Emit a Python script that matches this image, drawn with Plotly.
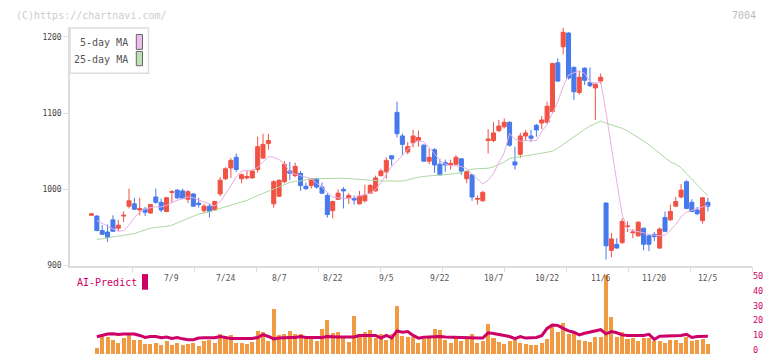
import plotly.graph_objects as go

# ---------------- data ----------------
opens = [966, 965, 946, 944, 960, 949, 965, 978, 981, 973,
         974, 969, 990, 983, 971, 996, 999, 998, 987, 994,
         982, 972, 978, 973, 994, 1014, 1028, 1042, 1014, 1015,
         1015, 1026, 1041, 1060, 981, 991, 1010, 1024, 1018, 1021,
         1004, 1005, 1014, 1003, 992, 972, 987, 1000, 989, 988,
         981, 985, 995, 998, 1018, 1023, 1044, 1101, 1070, 1049,
         1061, 1064, 1058, 1037, 1052, 1033, 1035, 1032, 1033, 1040,
         1014, 1019, 987, 985, 1064, 1064, 1077, 1082, 1088, 1036,
         1046, 1070, 1070, 1084, 1087, 1088, 1102, 1166, 1187, 1205,
         1160, 1127, 1159, 1140, 1133, 1142, 982, 920, 928, 930,
         951, 943, 939, 949, 939, 941, 923, 963, 960, 978,
         990, 1010, 983, 973, 959, 983]
highs = [968, 966, 953, 954, 966, 960, 971, 1001, 989, 989,
         977, 981, 1001, 988, 990, 999, 1000, 1001, 999, 995,
         989, 981, 981, 985, 1016, 1029, 1041, 1047, 1021, 1024,
         1026, 1069, 1073, 1073, 1012, 1013, 1037, 1036, 1035, 1024,
         1009, 1015, 1015, 1009, 995, 985, 1000, 1003, 995, 992,
         998, 1006, 1007, 1018, 1027, 1042, 1045, 1115, 1073, 1062,
         1078, 1077, 1059, 1054, 1054, 1040, 1039, 1039, 1045, 1041,
         1024, 1020, 992, 998, 1079, 1088, 1091, 1093, 1089, 1056,
         1074, 1078, 1078, 1086, 1096, 1115, 1166, 1172, 1212, 1206,
         1161, 1156, 1160, 1160, 1140, 1152, 983, 943, 936, 962,
         958, 948, 958, 950, 941, 944, 950, 971, 980, 990,
         1007, 1012, 987, 977, 990, 989]
lows = [966, 945, 941, 931, 944, 945, 957, 975, 973, 966,
        965, 968, 981, 970, 970, 982, 987, 987, 982, 977,
        976, 969, 963, 972, 991, 1012, 1015, 1023, 1008, 1013,
        1014, 1022, 1040, 1052, 976, 990, 1008, 1012, 1016, 998,
        999, 1001, 1001, 994, 963, 962, 986, 975, 981, 980,
        980, 983, 994, 997, 1017, 1014, 1031, 1068, 1045, 1046,
        1055, 1056, 1036, 1033, 1022, 1018, 1023, 1026, 1032, 1019,
        1008, 985, 980, 984, 1047, 1062, 1075, 1080, 1056, 1026,
        1041, 1064, 1062, 1069, 1079, 1086, 1100, 1141, 1177, 1144,
        1117, 1124, 1137, 1134, 1091, 1138, 908, 911, 922, 929,
        944, 936, 938, 920, 919, 932, 922, 944, 959, 977,
        988, 974, 970, 966, 955, 971]
closes = [968, 946, 941, 937, 945, 953, 966, 985, 974, 975,
          970, 980, 983, 973, 989, 997, 989, 988, 997, 978,
          980, 978, 971, 984, 1012, 1027, 1038, 1026, 1019, 1017,
          1024, 1056, 1059, 1064, 1010, 1012, 1033, 1021, 1030, 1005,
          1001, 1014, 1003, 995, 967, 984, 995, 998, 992, 986,
          991, 992, 1005, 1015, 1024, 1038, 1040, 1073, 1059, 1056,
          1070, 1068, 1037, 1042, 1032, 1019, 1032, 1034, 1042, 1024,
          1023, 990, 988, 996, 1066, 1074, 1083, 1088, 1058, 1032,
          1070, 1074, 1067, 1078, 1091, 1109, 1165, 1142, 1206, 1146,
          1128, 1147, 1143, 1136, 1138, 1147, 926, 935, 923, 958,
          952, 944, 957, 928, 928, 938, 948, 945, 971, 984,
          999, 975, 971, 968, 989, 978]

ma5 = [None, 959, 955, 951, 948, 945, 946, 953, 963, 970,
       974, 976, 977, 977, 979, 983, 986, 988, 990, 989,
       986, 984, 981, 978, 984, 994, 1005, 1016, 1024, 1025,
       1025, 1029, 1036, 1043, 1042, 1039, 1034, 1022, 1020, 1018,
       1015, 1014, 1008, 1003, 996, 990, 989, 988, 988, 989,
       992, 993, 995, 1000, 1009, 1020, 1030, 1037, 1045, 1053,
       1060, 1064, 1062, 1055, 1047, 1038, 1033, 1031, 1031, 1030,
       1027, 1020, 1013, 1007, 1012, 1021, 1035, 1048, 1073, 1066,
       1063, 1064, 1064, 1064, 1076, 1085, 1100, 1115, 1135, 1150,
       1153, 1155, 1152, 1141, 1139, 1141, 1101, 1054, 1010, 967,
       948, 946, 945, 943, 941, 940, 939, 940, 946, 954,
       964, 970, 973, 975, 977, 979]
ma25 = [None, 934.5, 935, 936.5, 937.5, 938.5, 939.5, 940.3, 942, 944.5,
        947, 949, 950, 950.5, 951.5, 953, 955.5, 959, 962, 965,
        967.5, 969, 970.5, 972.5, 975, 977, 979, 981, 983, 985.5,
        989, 992, 995, 998, 1001, 1004, 1007, 1009, 1010.5, 1011,
        1012.5, 1013.5, 1014, 1014, 1014.5, 1014.5, 1014.6, 1014.6, 1014, 1013.5,
        1013, 1012.5, 1011.5, 1011, 1011, 1011, 1011, 1011, 1011, 1012.5,
        1014.5, 1016, 1017, 1017.5, 1018.3, 1018.8, 1019.5, 1020, 1021, 1022,
        1025, 1026.5, 1027, 1027.3, 1027.7, 1029.5, 1032.5, 1036, 1040.5, 1041.5,
        1042.7, 1044, 1045, 1046.3, 1047.5, 1048.5, 1050, 1054, 1059, 1064.5,
        1069.5, 1074, 1078.5, 1083, 1086.5, 1089.5, 1087, 1085, 1082.5, 1080,
        1076.5, 1072.5, 1068, 1063.5, 1058.5, 1053, 1047, 1041.5, 1036, 1033,
        1028.5, 1020.5, 1013, 1006, 999, 991.5]

volume = [None, 6, 21, 17, 14, 11, 16, 22, 14, 14,
          10, 10, 11, 9, 13, 9, 11, 9, 10, 11,
          8, 13, 14, 11, 20, 17, 19, 11, 11, 10,
          12, 24, 23, 13, 46, 19, 21, 24, 21, 21,
          17, 17, 13, 26, 35, 22, 23, 17, 12, 39,
          21, 23, 25, 16, 21, 14, 20, 49, 18, 17,
          17, 11, 15, 16, 26, 25, 14, 11, 16, 13,
          15, 20, 11, 13, 31, 16, 12, 10, 13, 14,
          11, 10, 9, 9, 11, 15, 31, 23, 32, 20,
          22, 14, 13, 12, 17, 17, 81, 38, 17, 23,
          15, 16, 13, 16, 16, 13, 13, 11, 14, 14,
          11, 17, 13, 14, 15, 10]

ai_predict = [None, 8.8, 9.7, 10.7, 10.8, 10.3, 10.7, 10.8, 10.7, 9.7,
              8.3, 9, 9, 8.1, 8.7, 7.7, 8.3, 7.4, 6.8, 6.8,
              8, 8.1, 8.1, 8.1, 9, 8.3, 7.7, 7.7, 7.7, 7.7,
              7.7, 8.3, 10.3, 9, 7.4, 8, 8.3, 8.3, 8.3, 9,
              8.3, 8.3, 8.3, 8.3, 9, 8.7, 8.7, 8.7, 8.7, 8.7,
              9.7, 9.7, 9.7, 9.7, 7.9, 9.7, 8.1, 12.8, 11.9, 12.3,
              9.7, 7.9, 8.5, 8.7, 9, 9, 8.7, 8.5, 8.3, 8.1,
              7.9, 7.9, 7.9, 7.9, 11.5, 11, 10.1, 9.7, 9, 7.5,
              9, 7.9, 8.1, 8.3, 9.5, 14.5, 16.8, 16.5, 14.5, 12.8,
              11.9, 10.1, 11.2, 12, 13, 13.6, 10.8, 12.3, 11.5, 10.1,
              9.7, 9.7, 9.7, 9.7, 10.5, 7, 9.2, 9.2, 9.2, 9.5,
              9.7, 10.5, 8.3, 9, 9.2, 9.2]

date_label_idx = [15, 25, 35, 45, 55, 65, 75, 85, 95, 105, 115]
date_labels = ['7/9', '7/24', '8/7', '8/22', '9/5', '9/22', '10/7',
               '10/22', '11/6', '11/20', '12/5']
price_ticks = [900, 1000, 1100, 1200]
ai_ticks = [0, 10, 20, 30, 40, 50]

# ---------------- layout geometry ----------------
W, H = 772, 361
FONT = 'DejaVu Sans Mono'
UP, DOWN = '#f05244', '#4679ec'
PINK, GREEN = '#e4aee4', '#acd7a0'
CRIMSON = '#cc0066'
ORANGE = '#f29a42'
AXIS = '#dddddd'

PL, PR = 70, 752           # plot left/right px
STEP = 5.36                # px per candle
X0PX = 91.5                # px of first candle
x_min = -(X0PX - PL) / STEP
x_max = x_min + (PR - PL) / STEP


def fx(px):
    return px / W


def fy(py):
    return 1 - py / H


idx = list(range(len(opens)))
grid_ticks = [x_min + (62 * k) / STEP for k in range(1, 12)]

fig = go.Figure()

fig.add_trace(go.Scatter(x=idx, y=ma25, mode='lines', line=dict(color=GREEN, width=1),
                         hoverinfo='skip', showlegend=False))
fig.add_trace(go.Scatter(x=idx, y=ma5, mode='lines', line=dict(color=PINK, width=1),
                         hoverinfo='skip', showlegend=False))
fig.add_trace(go.Candlestick(
    x=idx, open=opens, high=highs, low=lows, close=closes,
    increasing=dict(line=dict(color=UP, width=1), fillcolor=UP),
    decreasing=dict(line=dict(color=DOWN, width=1), fillcolor=DOWN),
    whiskerwidth=0, showlegend=False))

fig.add_trace(go.Bar(x=idx, y=volume, yaxis='y2', width=0.75,
                     marker=dict(color=ORANGE, line=dict(width=0)), showlegend=False))
fig.add_trace(go.Scatter(x=idx, y=ai_predict, yaxis='y3', mode='lines',
                         line=dict(color=CRIMSON, width=3), showlegend=False))

# main price axis: 1200 at 33.7px, 900 at 268.3px
main_bot, main_top = 268.3, 24
ppu = (268.3 - 33.7) / 300
y_top = 1200 + (33.7 - main_top) / ppu

# AI axis: 0 at 354.6px, 50 at 279px, within panel 278..359
ai_ppu = (354.6 - 279) / 50
ai_lo = -(359 - 354.6) / ai_ppu
ai_hi = 50 + (279 - 278) / ai_ppu

annotations = []
for i, t in zip(date_label_idx, date_labels):
    annotations.append(dict(x=i, y=fy(281.7), xref='x', yref='paper', text=t,
                            showarrow=False, xanchor='center', yanchor='middle',
                            font=dict(family=FONT, size=8, color='#555555')))
annotations += [
    dict(x=fx(14), y=fy(12), xref='paper', yref='paper', text='(C)https://chartnavi.com/',
         showarrow=False, xanchor='left', yanchor='middle',
         font=dict(family=FONT, size=10, color='#cccccc')),
    dict(x=fx(758), y=fy(12), xref='paper', yref='paper', text='7004',
         showarrow=False, xanchor='right', yanchor='middle',
         font=dict(family=FONT, size=10, color='#bbbbbb')),
    dict(x=fx(130), y=fy(39.3), xref='paper', yref='paper', text='5-day MA',
         showarrow=False, xanchor='right', yanchor='middle',
         font=dict(family=FONT, size=10, color='#555555')),
    dict(x=fx(130), y=fy(56.7), xref='paper', yref='paper', text='25-day MA',
         showarrow=False, xanchor='right', yanchor='middle',
         font=dict(family=FONT, size=10, color='#555555')),
    dict(x=fx(75), y=fy(286), xref='paper', yref='paper', text='AI-Predict',
         showarrow=False, xanchor='left', yanchor='middle',
         font=dict(family=FONT, size=10, color=CRIMSON)),
]

shapes = [
    dict(type='rect', xref='paper', yref='paper', x0=fx(70), x1=fx(148.5), y0=fy(71), y1=fy(24.5),
         line=dict(color='#dddddd', width=1.5), fillcolor='white', layer='above'),
    dict(type='rect', xref='paper', yref='paper', x0=fx(136.3), x1=fx(142.5), y0=fy(46.5), y1=fy(31.3),
         line=dict(color='#666666', width=1), fillcolor='#eebcee', layer='above'),
    dict(type='rect', xref='paper', yref='paper', x0=fx(136.3), x1=fx(142.5), y0=fy(63.3), y1=fy(48.6),
         line=dict(color='#666666', width=1), fillcolor='#bfe0b4', layer='above'),
    dict(type='rect', xref='paper', yref='paper', x0=fx(142), x1=fx(148), y0=fy(293), y1=fy(277),
         line=dict(width=0), fillcolor=CRIMSON, layer='above'),
]

fig.update_layout(
    width=W, height=H,
    margin=dict(l=0, r=0, t=0, b=0),
    paper_bgcolor='white', plot_bgcolor='white',
    showlegend=False, boxgap=0.25, boxgroupgap=0, bargap=0,
    font=dict(family=FONT),
    xaxis=dict(domain=[fx(PL), fx(PR)], range=[x_min, x_max], anchor='y',
               tickvals=grid_ticks, showticklabels=False, ticks='outside', ticklen=5,
               tickcolor=AXIS, tickwidth=1, showline=True, linecolor=AXIS, linewidth=1.5,
               showgrid=False, zeroline=False, rangeslider=dict(visible=False)),
    yaxis=dict(domain=[fy(main_bot), fy(main_top)], range=[900, y_top],
               tickvals=price_ticks, ticks='outside', ticklen=5, tickcolor=AXIS,
               tickfont=dict(family=FONT, size=8, color='#444444'),
               showline=True, linecolor=AXIS, linewidth=1.5, showgrid=False, zeroline=False),
    yaxis2=dict(domain=[fy(359), fy(278)], range=[0, 81], visible=False),
    yaxis3=dict(overlaying='y2', side='right', anchor='x', range=[ai_lo, ai_hi],
                tickvals=ai_ticks, ticks='', showline=False, showgrid=False, zeroline=False,
                tickfont=dict(family=FONT, size=8.5, color=CRIMSON)),
    annotations=annotations, shapes=shapes,
)

# the page body has a default 8px margin; remove it so the figure sits at (0,0)
fig.write_html("out.html", config={'displayModeBar': False},
               post_script="document.body.style.margin='0px';")
